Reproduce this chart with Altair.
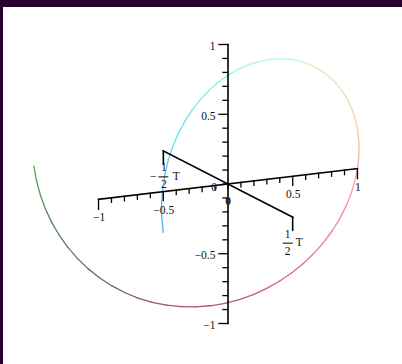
import altair as alt
import pandas as pd

# Space curve: one turn of the unit circle in the (x, y) plane, swept along T.
# t is given as a fraction of T, from -T/2 to T/2.
curve_t = [k / 64 for k in range(-32, 33)]
curve_x = [-1, -.995, -.981, -.957, -.924, -.882, -.831, -.773, -.707, -.634, -.556,
           -.471, -.383, -.290, -.195, -.098, 0, .098, .195, .290, .383, .471, .556,
           .634, .707, .773, .831, .882, .924, .957, .981, .995, 1, .995, .981, .957,
           .924, .882, .831, .773, .707, .634, .556, .471, .383, .290, .195, .098, 0,
           -.098, -.195, -.290, -.383, -.471, -.556, -.634, -.707, -.773, -.831, -.882,
           -.924, -.957, -.981, -.995, -1]
curve_y = [0, -.098, -.195, -.290, -.383, -.471, -.556, -.634, -.707, -.773, -.831,
           -.882, -.924, -.957, -.981, -.995, -1, -.995, -.981, -.957, -.924, -.882,
           -.831, -.773, -.707, -.634, -.556, -.471, -.383, -.290, -.195, -.098, 0,
           .098, .195, .290, .383, .471, .556, .634, .707, .773, .831, .882, .924, .957,
           .981, .995, 1, .995, .981, .957, .924, .882, .831, .773, .707, .634, .556,
           .471, .383, .290, .195, .098, 0]

# Axis ticks and their labels
axis_ticks = [i / 10 for i in range(-10, 11)]
x_labels = {-1: "\u22121", -0.5: "\u22120.5", 0.5: "0.5", 1: "1"}
y_labels = {1: "1", 0.5: "0.5", -0.5: "\u22120.5", -1: "\u22121"}
t_ends = [-0.5, 0.5]

# --- orthographic view: screen units (1 unit = PX pixels), up is positive ---
PX = 139.5
EX = (0.928, 0.110)    # screen direction of the x axis
ET = (0.927, -0.475)   # screen direction of the T axis (per T)
EY = (0.0, 1.0)        # y axis is vertical
TINT = 0.32            # share of white mixed into the curve colour


def proj(x, y, t):
    return (x * EX[0] + t * ET[0] + y * EY[0],
            x * EX[1] + t * ET[1] + y * EY[1])


def off(p, dx, dy):
    # shift a projected point by screen pixels (dy positive = down)
    return (p[0] + dx / PX, p[1] - dy / PX)


# curve segments, coloured by position: (x, y, t) -> (r, g, b)
curve_rows = []
for i in range(len(curve_t) - 1):
    a = proj(curve_x[i], curve_y[i], curve_t[i])
    b = proj(curve_x[i + 1], curve_y[i + 1], curve_t[i + 1])
    mx = (curve_x[i] + curve_x[i + 1]) / 2
    my = (curve_y[i] + curve_y[i + 1]) / 2
    mt = (curve_t[i] + curve_t[i + 1]) / 2
    base = [min(1, max(0, c)) for c in ((mx + 1) / 2, (my + 1) / 2, mt + 0.5)]
    rgb = [round(255 * (c * (1 - TINT) + TINT)) for c in base]
    curve_rows.append({"u1": a[0], "v1": a[1], "u2": b[0], "v2": b[1],
                       "c": "#%02x%02x%02x" % tuple(rgb)})
curve_df = pd.DataFrame(curve_rows)

seg_rows = []


def seg(a, b, w):
    seg_rows.append({"u1": a[0], "v1": a[1], "u2": b[0], "v2": b[1], "w": w})


# axis lines
seg(proj(-1, 0, 0), proj(1, 0, 0), 1.6)
seg(proj(0, -1, 0), proj(0, 1, 0), 1.6)
seg(proj(0, 0, -0.5), proj(0, 0, 0.5), 1.6)

for v in axis_ticks:
    major = abs(v) in (0.5, 1.0)
    # x-axis ticks hang downward
    p = proj(v, 0, 0)
    seg(p, off(p, 0, 10 if abs(v) == 1 else (9 if major else 4.5)), 1.3)
    # y-axis ticks point left
    q = proj(0, v, 0)
    seg(q, off(q, -9 if major else -5, 0), 1.3)

# end ticks of the T axis
for te in t_ends:
    p = proj(0, 0, te)
    seg(p, off(p, 0, 13), 1.6)

# fraction bars of the T labels
pm = proj(0, 0, -0.5)
seg(off(pm, -4.5, 26), off(pm, 4.5, 26), 1.0)
pp = proj(0, 0, 0.5)
seg(off(pp, -9.5, 26), off(pp, -0.5, 26), 1.0)
seg_df = pd.DataFrame(seg_rows)

# centred labels
lab_rows = []
for v, s in x_labels.items():
    p = off(proj(v, 0, 0), 0.5, 19)
    lab_rows.append({"u": p[0], "v": p[1], "s": s})
for dx, dy, s in [(-10, 26, "\u2212"), (0.5, 17.5, "1"), (0.5, 34.5, "2"), (13, 26, "T")]:
    p = off(pm, dx, dy)
    lab_rows.append({"u": p[0], "v": p[1], "s": s})
for dx, dy, s in [(-5, 17.5, "1"), (-5, 34.5, "2"), (6.5, 26, "T")]:
    p = off(pp, dx, dy)
    lab_rows.append({"u": p[0], "v": p[1], "s": s})
p0 = off(proj(0, 0, 0), -14, 4)
lab_rows.append({"u": p0[0], "v": p0[1], "s": "0"})
lab_df = pd.DataFrame(lab_rows)

right_rows = []
for v, s in y_labels.items():
    p = off(proj(0, v, 0), -12.5, 2.5)
    right_rows.append({"u": p[0], "v": p[1], "s": s})
right_df = pd.DataFrame(right_rows)

pz = off(proj(0, 0, 0), 0, 18)
bold_df = pd.DataFrame([{"u": pz[0], "v": pz[1], "s": "0"}])

W, H = 399, 357
OX, OY = 225, 177
xs = alt.Scale(domain=[-OX / PX, (W - OX) / PX], nice=False, zero=False)
ys = alt.Scale(domain=[-(H - OY) / PX, OY / PX], nice=False, zero=False)
X = lambda f: alt.X(f, type="quantitative", scale=xs, axis=None)
Y = lambda f: alt.Y(f, type="quantitative", scale=ys, axis=None)

curve = alt.Chart(curve_df).mark_rule(strokeCap="round", strokeWidth=1.3).encode(
    x=X("u1"), y=Y("v1"), x2="u2", y2="v2",
    color=alt.Color("c:N", scale=None),
)

axes = alt.Chart(seg_df).mark_rule(color="#000000", strokeCap="square").encode(
    x=X("u1"), y=Y("v1"), x2="u2", y2="v2",
    strokeWidth=alt.StrokeWidth("w:Q", scale=None),
)

font = "Liberation Serif"
labels = alt.Chart(lab_df).mark_text(
    font=font, fontSize=11.5, align="center", baseline="middle", color="#111111"
).encode(x=X("u"), y=Y("v"), text="s:N")

right_labels = alt.Chart(right_df).mark_text(
    font=font, fontSize=11.5, align="right", baseline="middle", color="#111111"
).encode(x=X("u"), y=Y("v"), text="s:N")

bold_zero = alt.Chart(bold_df).mark_text(
    font=font, fontSize=11.5, fontWeight="bold", align="center", baseline="middle",
    color="#222222"
).encode(x=X("u"), y=Y("v"), text="s:N")

chart = alt.layer(curve, axes, labels, right_labels, bold_zero).properties(
    width=W, height=H,
    background="#28002e",
    padding={"left": 3, "top": 7, "right": 0, "bottom": 0},
    autosize=alt.AutoSizeParams(type="none"),
).configure_view(fill="#ffffff", stroke=None)

chart.save("out.html", embed_options={"renderer": "svg", "actions": False})
